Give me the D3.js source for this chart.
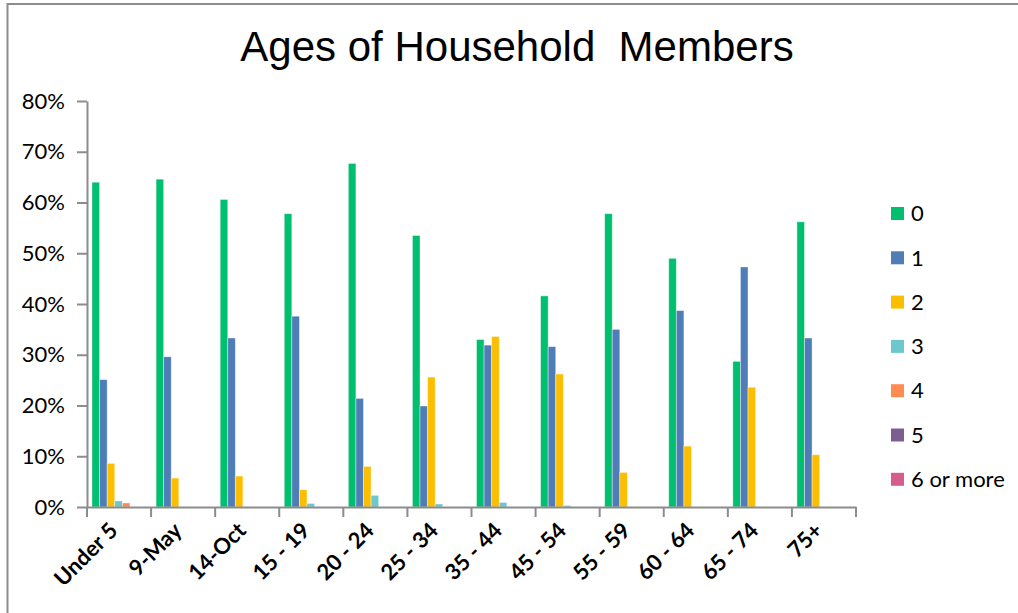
<!DOCTYPE html>
<html>
<head>
    <meta charset="utf-8" />
    <title>Ages of Household Members</title>
    <script src="https://cdn.jsdelivr.net/npm/d3@7"></script>
    <style>
        body { margin: 0; background: #fff; }
        .chart text { font-family: Lato, "Open Sans", sans-serif; fill: #000; }
        .chart .title { font-family: "Liberation Sans", Arial, sans-serif; font-size: 42px; }
        .axis path, .axis line { stroke: #8c8c8c; stroke-width: 2; }
    </style>
</head>
<body>
    <svg class="chart" width="1018" height="613"></svg>

    <script>
    var ageGroups = ["Under 5", "9-May", "14-Oct", "15 - 19", "20 - 24", "25 - 34", "35 - 44", "45 - 54", "55 - 59", "60 - 64", "65 - 74", "75+"];
    var seriesNames = ["0", "1", "2", "3", "4", "5", "6 or more"];
    var colors = ["#00bf6f", "#4f7db7", "#fbbe00", "#6dc8cd", "#ff8b50", "#7d5e91", "#d55c8f"];

    // share of households (%), one array per number of members
    var members0 = [64.0, 64.6, 60.6, 57.8, 67.7, 53.5, 33.0, 41.6, 57.8, 49.0, 28.7, 56.2];
    var members1 = [25.1, 29.6, 33.3, 37.6, 21.4, 19.9, 31.9, 31.6, 35.0, 38.7, 47.3, 33.3];
    var members2 = [8.6, 5.7, 6.1, 3.4, 8.0, 25.6, 33.6, 26.2, 6.8, 12.0, 23.6, 10.3];
    var members3 = [1.2, 0, 0, 0.7, 2.3, 0.6, 0.9, 0.3, 0, 0, 0, 0];
    var members4 = [0.8, 0, 0, 0, 0, 0, 0, 0, 0, 0, 0, 0];
    var members5 = [0, 0, 0, 0, 0, 0, 0, 0, 0, 0, 0, 0];
    var members6 = [0, 0, 0, 0, 0, 0, 0, 0, 0, 0, 0, 0];
    var yTicks = [0, 10, 20, 30, 40, 50, 60, 70, 80];

    var allSeries = [members0, members1, members2, members3, members4, members5, members6];

    var svg = d3.select(".chart");

    // outer frame (top and left edges show)
    svg.append("path")
        .attr("d", "M7.5,613 V4 H1018")
        .attr("fill", "none")
        .attr("stroke", "#8c8c8c")
        .attr("stroke-width", 2);

    svg.append("text")
        .attr("class", "title")
        .attr("x", 517)
        .attr("y", 61)
        .attr("text-anchor", "middle")
        .attr("xml:space", "preserve")
        .text("Ages of Household  Members");

    var plotLeft = 87, plotRight = 856, plotTop = 101, plotBottom = 507;

    var x = d3.scaleBand().domain(ageGroups).range([plotLeft, plotRight]).paddingInner(0).paddingOuter(0);
    var xs = d3.scaleBand().domain(seriesNames).range([5, x.bandwidth() - 6]);
    var y = d3.scaleLinear().domain([0, 80]).range([plotBottom, plotTop]);

    var yAxis = svg.append("g")
        .attr("class", "axis")
        .attr("transform", "translate(" + plotLeft + ",0)")
        .call(d3.axisLeft(y).tickValues(yTicks).tickSize(10).tickSizeOuter(0).tickPadding(12)
            .tickFormat(function (d) { return d + "%"; }));
    yAxis.selectAll("text").style("font-size", "22px");

    var groups = svg.selectAll("g.group")
        .data(ageGroups)
        .enter().append("g")
        .attr("class", "group")
        .attr("transform", function (d) { return "translate(" + x(d) + ",0)"; });

    groups.selectAll("rect")
        .data(function (d, i) {
            return allSeries.map(function (s, j) { return { name: seriesNames[j], value: s[i] }; });
        })
        .enter().append("rect")
        .filter(function (d) { return d.value > 0; })
        .attr("x", function (d) { return xs(d.name); })
        .attr("width", xs.bandwidth())
        .attr("y", function (d) { return y(d.value); })
        .attr("height", function (d) { return y(0) - y(d.value); })
        .attr("fill", function (d) { return colors[seriesNames.indexOf(d.name)]; })
        .attr("stroke", "rgba(255,255,255,0.5)")
        .attr("stroke-width", 0.8);

    var xAxis = svg.append("g")
        .attr("class", "axis")
        .attr("transform", "translate(0," + plotBottom + ")")
        .call(d3.axisBottom(x).tickSize(0).tickSizeOuter(0).tickFormat(""));

    // tick marks at the band edges
    xAxis.selectAll("line.edge")
        .data(ageGroups.concat(["end"]))
        .enter().append("line")
        .attr("class", "edge")
        .attr("x1", function (d, i) { return plotLeft + i * x.step(); })
        .attr("x2", function (d, i) { return plotLeft + i * x.step(); })
        .attr("y1", 0)
        .attr("y2", 10);

    svg.selectAll("text.xlabel")
        .data(ageGroups)
        .enter().append("text")
        .attr("class", "xlabel")
        .attr("text-anchor", "end")
        .attr("transform", function (d) {
            return "translate(" + (x(d) + x.bandwidth() / 2) + "," + (plotBottom + 25) + ") rotate(-45)";
        })
        .style("font-size", "22px")
        .style("font-weight", "bold")
        .text(function (d) { return d; });

    // legend
    var legend = svg.selectAll("g.legend")
        .data(seriesNames)
        .enter().append("g")
        .attr("class", "legend")
        .attr("transform", function (d, i) { return "translate(891," + (207 + i * 44.3) + ")"; });
    legend.append("rect")
        .attr("width", 13)
        .attr("height", 13)
        .attr("fill", function (d, i) { return colors[i]; });
    legend.append("text")
        .attr("x", 20)
        .attr("y", 6.5)
        .attr("dy", ".35em")
        .style("font-size", "22px")
        .text(function (d) { return d; });
    </script>
</body>
</html>
